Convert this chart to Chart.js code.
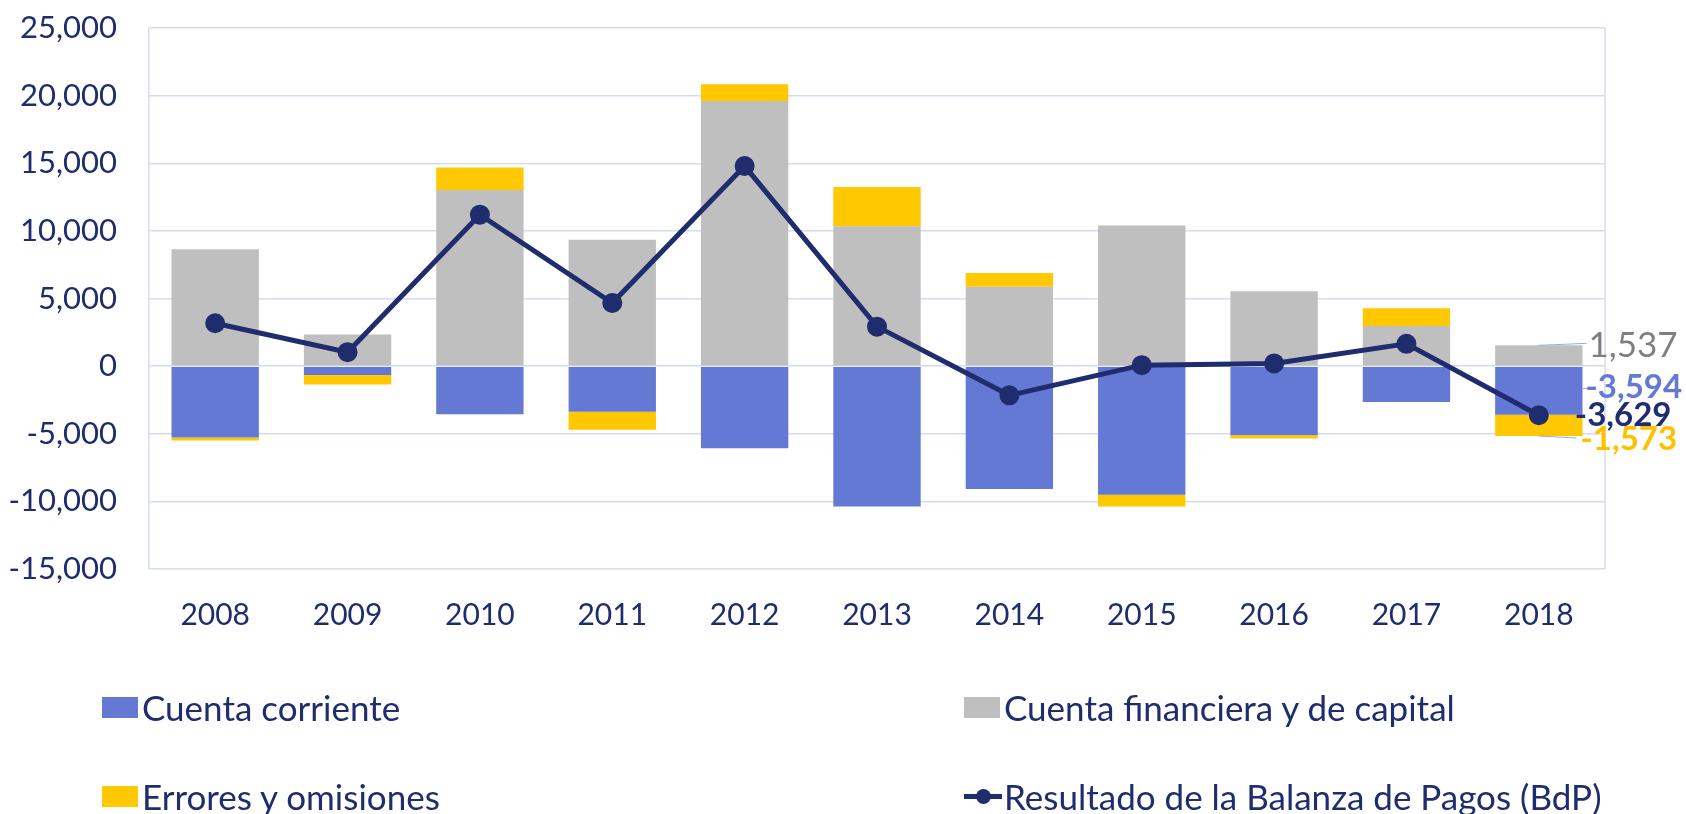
<!DOCTYPE html>
<html>
<head>
<meta charset="utf-8">
<script src="https://cdn.jsdelivr.net/npm/chart.js@4.4.1/dist/chart.umd.min.js"></script>
<style>
  body { margin: 0; background: #fff; }
  #wrap { position: relative; width: 1686px; height: 814px; font-family: Lato, sans-serif; }
  #legend .item { position: absolute; display: flex; align-items: center; font-size: 35px; color: #1f2c6e; white-space: nowrap; line-height: 40px; }
  #legend .box { width: 36px; height: 21px; margin-right: 4px; }
  #legend .line { position: relative; width: 38px; height: 21px; margin-right: 2px; }
  #legend .line::before { content: ""; position: absolute; left: 0; right: 0; top: 8px; height: 5px; background: #1f2c6e; }
  #legend .line::after { content: ""; position: absolute; left: 12px; top: 3px; width: 15px; height: 15px; border-radius: 50%; background: #1f2c6e; }
</style>
</head>
<body>
<div id="wrap">
  <canvas id="chart" width="1686" height="814"></canvas>
  <div id="legend"></div>
</div>
<script>
// datos (millones)
const years = ["2008", "2009", "2010", "2011", "2012", "2013", "2014", "2015", "2016", "2017", "2018"];
const cuentaCorriente = [-5270, -660, -3560, -3370, -6070, -10370, -9090, -9510, -5110, -2650, -3594];
const cuentaFinanciera = [8650, 2330, 13020, 9340, 19600, 10340, 5870, 10390, 5530, 2970, 1537];
const errores = [-230, -690, 1670, -1330, 1250, 2900, 1010, -860, -250, 1310, -1573];
const resultadoBdP = [3170, 1030, 11200, 4670, 14790, 2920, -2160, 70, 200, 1650, -3629];

const NAVY = "#1f2c6e";
const BLUE = "#6479d4";
const GRAY = "#bfbfbf";
const YELLOW = "#ffc800";
const GRID = "#d5dbf3";
const FONT = "Lato, sans-serif";

const fmt = v => Math.round(v).toLocaleString("en-US");

// etiquetas del ultimo año + borde derecho
const lastLabels = {
    id: "lastLabels",
    afterDatasetsDraw(chart) {
        const { ctx, scales: { x, y }, chartArea } = chart;
        const i = years.length - 1;
        const bar = chart.getDatasetMeta(0).data[i];
        const cx = bar.x;
        const right = cx + bar.width / 2;

        ctx.save();
        ctx.strokeStyle = GRID;
        ctx.lineWidth = 1.5;
        ctx.beginPath();
        ctx.moveTo(chartArea.right, chartArea.top);
        ctx.lineTo(chartArea.right, chartArea.bottom);
        ctx.stroke();

        ctx.textBaseline = "middle";
        ctx.textAlign = "left";

        // leader lines
        ctx.strokeStyle = "#9aa8e6";
        ctx.lineWidth = 1;
        const yFin = y.getPixelForValue(cuentaFinanciera[i]);
        const yCc = y.getPixelForValue(cuentaCorriente[i] / 2);
        const yBot = y.getPixelForValue(cuentaCorriente[i] + errores[i]);
        ctx.beginPath();
        ctx.moveTo(cx, yFin); ctx.lineTo(right + 4, yFin - 2);
        ctx.moveTo(right, yCc - 2); ctx.lineTo(right + 8, yCc - 2);
        ctx.moveTo(cx, yBot); ctx.lineTo(right - 6, yBot + 2);
        ctx.stroke();

        ctx.font = "35px " + FONT;
        ctx.fillStyle = "#7f7f7f";
        ctx.fillText(fmt(cuentaFinanciera[i]), right + 6, yFin);

        ctx.font = "bold 33px " + FONT;
        ctx.fillStyle = BLUE;
        ctx.fillText(fmt(cuentaCorriente[i]), right + 3, yCc - 3);

        ctx.fillStyle = NAVY;
        ctx.fillText(fmt(resultadoBdP[i]), cx + 36, y.getPixelForValue(resultadoBdP[i]));

        ctx.fillStyle = "#ffc000";
        ctx.fillText(fmt(errores[i]), right - 2, yBot + 3);
        ctx.restore();
    }
};

const chart = new Chart(document.getElementById("chart"), {
    type: "bar",
    data: {
        labels: years,
        datasets: [
            { label: "Cuenta corriente", data: cuentaCorriente, backgroundColor: BLUE, order: 1 },
            { label: "Cuenta financiera y de capital", data: cuentaFinanciera, backgroundColor: GRAY, order: 1 },
            { label: "Errores y omisiones", data: errores, backgroundColor: YELLOW, order: 1 },
            {
                type: "line", label: "Resultado de la Balanza de Pagos (BdP)", data: resultadoBdP,
                borderColor: NAVY, backgroundColor: NAVY, borderWidth: 5,
                pointRadius: 7.5, pointHoverRadius: 7.5, tension: 0, order: 0
            }
        ]
    },
    options: {
        responsive: false,
        animation: false,
        datasets: { bar: { categoryPercentage: 1, barPercentage: 0.66 } },
        layout: { padding: { top: 28, right: 81, bottom: 165, left: 0 } },
        plugins: { legend: { display: false }, tooltip: { enabled: false } },
        scales: {
            x: {
                stacked: true,
                grid: { display: false },
                border: { display: false },
                ticks: { color: NAVY, font: { family: FONT, size: 30 }, padding: 20 },
                afterFit(scale) { scale.height = 80; }
            },
            y: {
                stacked: true,
                min: -15000,
                max: 25000,
                grid: { color: GRID, lineWidth: 1.5, drawTicks: false },
                border: { color: GRID, width: 1.5 },
                ticks: {
                    stepSize: 5000, color: NAVY, padding: 32,
                    font: { family: FONT, size: 31 },
                    callback: v => fmt(v)
                },
                afterFit(scale) {
                    scale.width = 149;
                    scale.paddingTop = 0;
                    scale.paddingBottom = 0;
                }
            }
        }
    },
    plugins: [lastLabels]
});

// leyenda 2x2
const legendPos = [[102, 707], [964, 707], [102, 796], [964, 796]];
const legend = document.getElementById("legend");
chart.data.datasets.forEach((ds, k) => {
    const item = document.createElement("div");
    item.className = "item";
    item.style.left = legendPos[k][0] + "px";
    item.style.top = (legendPos[k][1] - 20) + "px";
    const sym = document.createElement("span");
    if (ds.type === "line") {
        sym.className = "line";
    } else {
        sym.className = "box";
        sym.style.background = ds.backgroundColor;
    }
    item.appendChild(sym);
    item.appendChild(document.createTextNode(ds.label));
    legend.appendChild(item);
});
</script>
</body>
</html>
